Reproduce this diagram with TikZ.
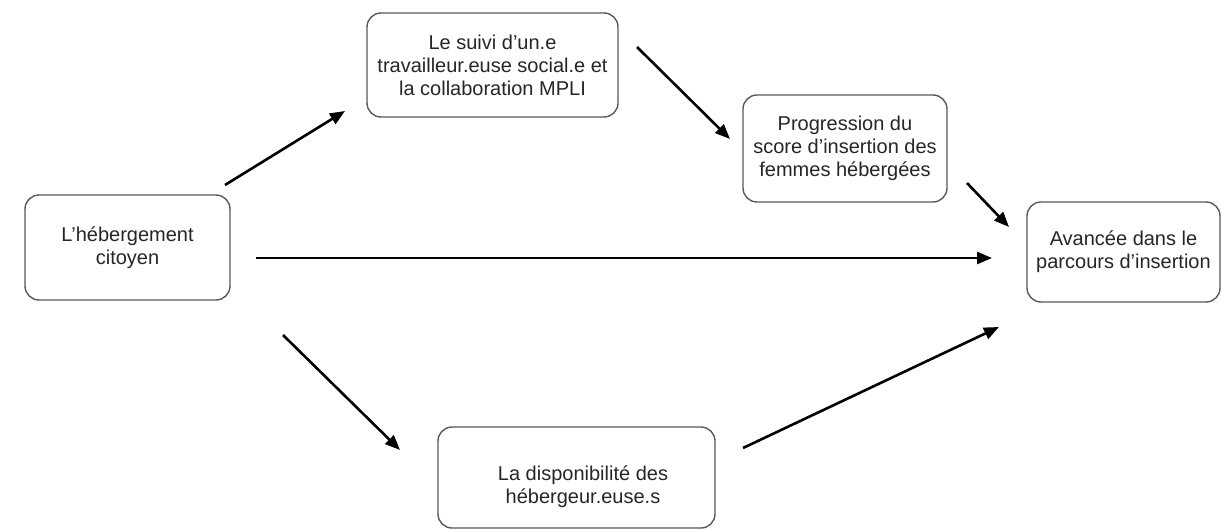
\documentclass[tikz,border=0pt]{standalone}
\usepackage{fontspec}
\setmainfont{Liberation Sans}
\usetikzlibrary{arrows.meta}
\begin{document}
\begin{tikzpicture}[x=1pt,y=-1pt,
  box/.style={draw=black!65, line width=1.4pt, rounded corners=14pt, fill=white,
    align=center, inner sep=0pt, text=black!85,
    font=\fontsize{20}{23}\selectfont},
  txt/.style={align=center, inner sep=0pt, text=black!85, font=\fontsize{20}{23}\selectfont},
  arr/.style={line width=2.6pt, -{Triangle[length=15pt,width=12pt]}}]
\useasboundingbox (0,0) rectangle (1229,530);
\node[box, minimum width=205pt, minimum height=105pt] (heb) at (127.5,247.5) {L’hébergement\\citoyen};
\node[box, minimum width=251pt, minimum height=104pt] (suivi) at (492.5,65) {Le suivi d’un.e\\travailleur.euse social.e et\\la collaboration MPLI};
\node[box, minimum width=204pt, minimum height=107pt] (prog) at (845,148.5) {Progression du\\score d’insertion des\\femmes hébergées};
\node[box, minimum width=193pt, minimum height=100pt] (avan) at (1123.5,252) {Avancée dans le\\parcours d’insertion};
\node[box, minimum width=277pt, minimum height=101pt] (dispo) at (576.5,477.5) {};
\node[txt] (dispotxt) at (583,487) {La disponibilité des\\hébergeur.euse.s};
% connector ends
\coordinate (a1s) at (225,185);  \coordinate (a1e) at (345,111);
\coordinate (a2s) at (637,47);   \coordinate (a2e) at (730,139);
\coordinate (a3s) at (967,183);  \coordinate (a3e) at (1009,227);
\coordinate (a4s) at (256,258);  \coordinate (a4e) at (992,258);
\coordinate (a5s) at (283,335);  \coordinate (a5e) at (400,450);
\coordinate (a6s) at (743,448);  \coordinate (a6e) at (999,327);
\draw[arr] (a1s) -- (a1e);
\draw[arr] (a2s) -- (a2e);
\draw[arr] (a3s) -- (a3e);
\draw[arr] (a4s) -- (a4e);
\draw[arr] (a5s) -- (a5e);
\draw[arr] (a6s) -- (a6e);
\end{tikzpicture}
\end{document}
